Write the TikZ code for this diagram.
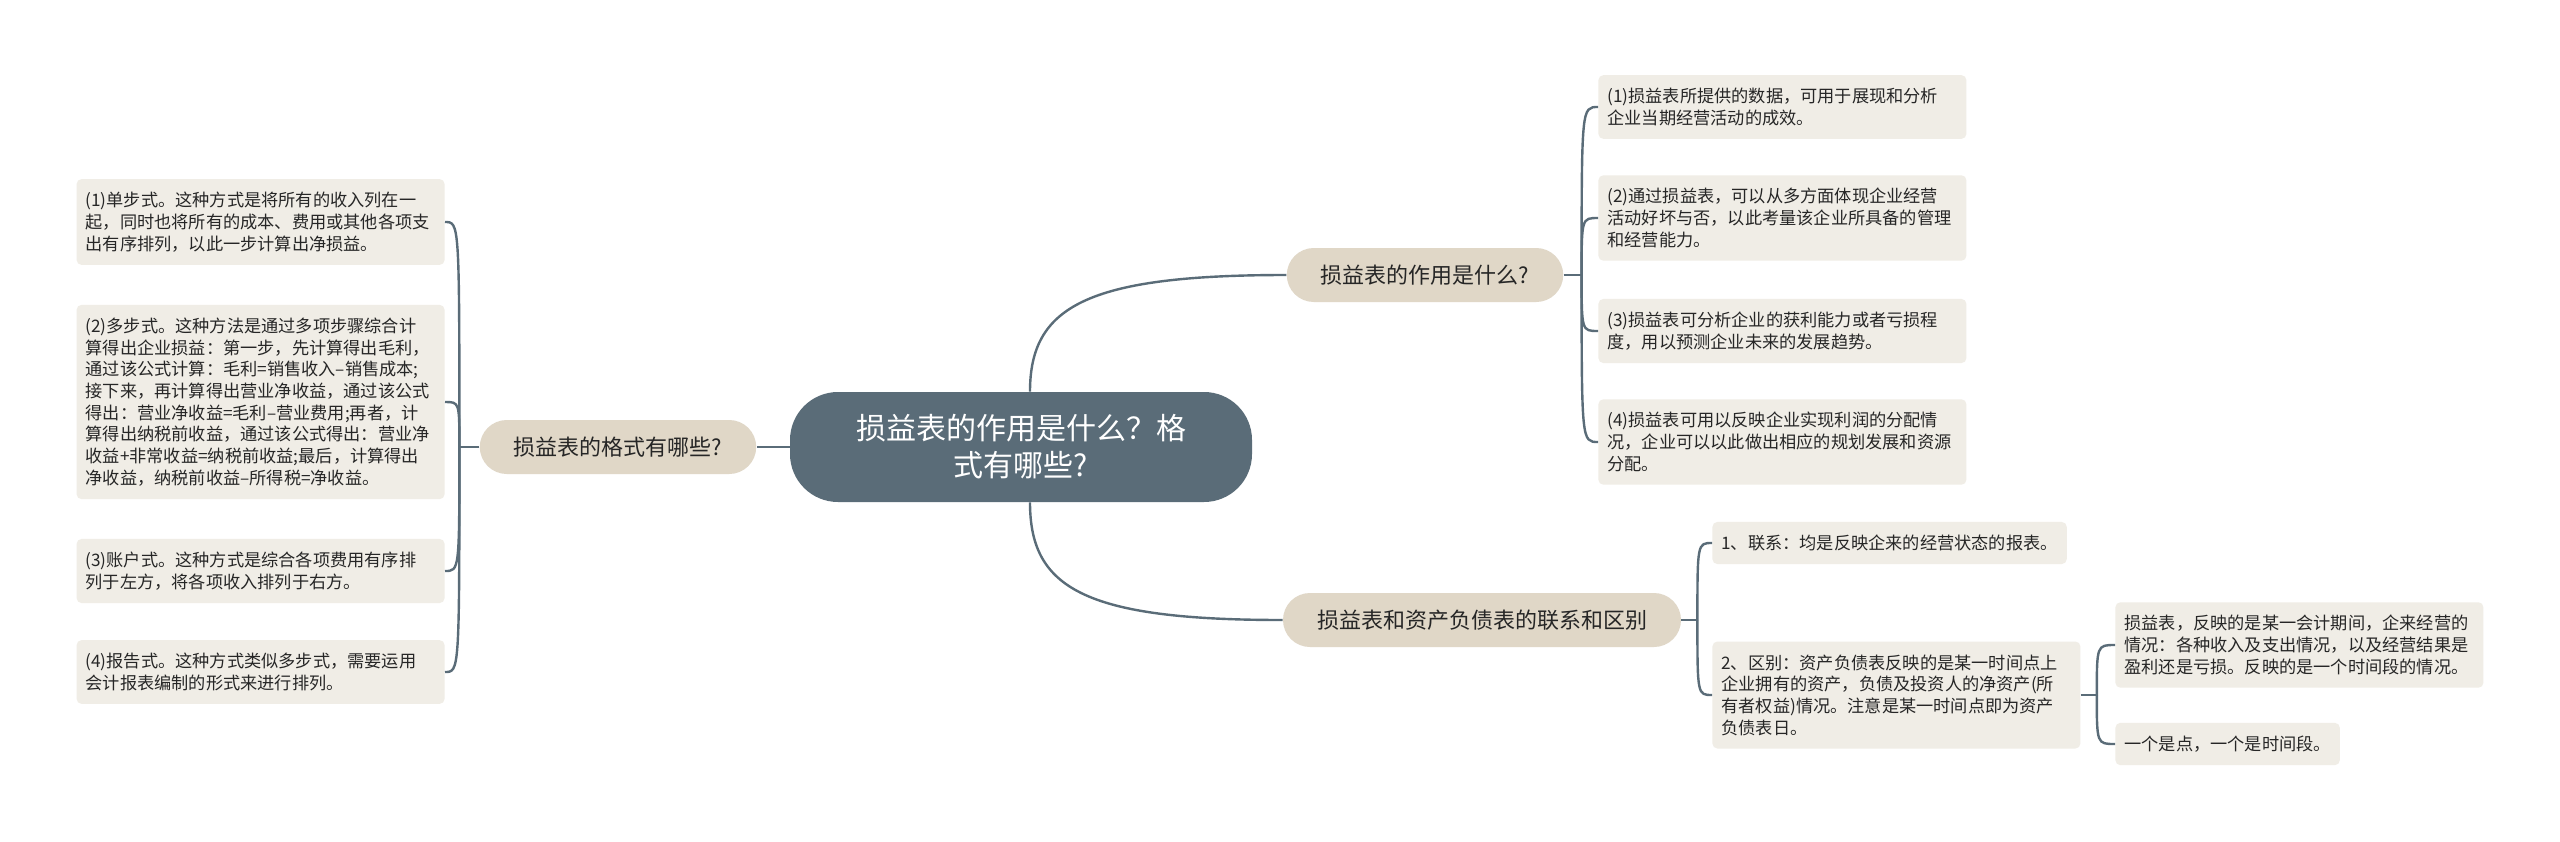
\documentclass[tikz,border=0pt]{standalone}
\usepackage{fontspec}
\setmainfont{Noto Sans CJK SC}
\usetikzlibrary{calc}
\definecolor{slate}{HTML}{5A6C78}
\definecolor{topicfill}{HTML}{E0D7C7}
\definecolor{leaffill}{HTML}{F0EDE6}
\definecolor{ink}{HTML}{262626}
\tikzset{root/.style={fill=slate,text=white,rounded corners=24pt,align=center,inner xsep=33pt,minimum height=55pt,font=\fontsize{15}{18.5}\selectfont}}
\tikzset{topic/.style={fill=topicfill,text=ink,rounded corners=13.5pt,inner xsep=17pt,minimum height=27pt,font=\fontsize{11}{13}\selectfont}}
\tikzset{leaf/.style={fill=leaffill,text=ink,rounded corners=2.5pt,align=left,inner xsep=4.5pt,inner ysep=6.5pt,font=\fontsize{8.6}{10.85}\selectfont}}
\tikzset{wideleaf/.style={leaf,text width=175pt}}
\tikzset{branch/.style={draw=slate,line width=1.2pt}}

\begin{document}
\begin{tikzpicture}[x=0.5pt,y=-0.5pt]
\useasboundingbox[fill=white](0,0)rectangle(2560,841);
\node[root](root)at(1021,447){损益表的作用是什么？格\\式有哪些?};
\node[topic](fmt)at(618,447){损益表的格式有哪些?};
\node[topic](use)at(1425,275){损益表的作用是什么?};
\node[topic](rel)at(1482,620){损益表和资产负债表的联系和区别};
% left leaves
\node[wideleaf,anchor=east](f1)at(445,222){(1)单步式。这种方式是将所有的收入列在一\\起，同时也将所有的成本、费用或其他各项支\\出有序排列，以此一步计算出净损益。};
\node[wideleaf,anchor=east](f2)at(445,402){(2)多步式。这种方法是通过多项步骤综合计\\算得出企业损益：第一步，先计算得出毛利，\\通过该公式计算：毛利=销售收入–销售成本;\\接下来，再计算得出营业净收益，通过该公式\\得出：营业净收益=毛利–营业费用;再者，计\\算得出纳税前收益，通过该公式得出：营业净\\收益+非常收益=纳税前收益;最后，计算得出\\净收益，纳税前收益–所得税=净收益。};
\node[wideleaf,anchor=east](f3)at(445,571){(3)账户式。这种方式是综合各项费用有序排\\列于左方，将各项收入排列于右方。};
\node[wideleaf,anchor=east](f4)at(445,672){(4)报告式。这种方式类似多步式，需要运用\\会计报表编制的形式来进行排列。};
% right leaves
\node[wideleaf,anchor=west](u1)at(1598,107){(1)损益表所提供的数据，可用于展现和分析\\企业当期经营活动的成效。};
\node[wideleaf,anchor=west](u2)at(1598,218){(2)通过损益表，可以从多方面体现企业经营\\活动好坏与否，以此考量该企业所具备的管理\\和经营能力。};
\node[wideleaf,anchor=west](u3)at(1598,331){(3)损益表可分析企业的获利能力或者亏损程\\度，用以预测企业未来的发展趋势。};
\node[wideleaf,anchor=west](u4)at(1598,442){(4)损益表可用以反映企业实现利润的分配情\\况，企业可以以此做出相应的规划发展和资源\\分配。};
\node[leaf,anchor=west](r1)at(1712,543){1、联系：均是反映企来的经营状态的报表。};
\node[wideleaf,anchor=west](r2)at(1712,695){2、区别：资产负债表反映的是某一时间点上\\企业拥有的资产，负债及投资人的净资产(所\\有者权益)情况。注意是某一时间点即为资产\\负债表日。};
\node[wideleaf,anchor=west](d1)at(2115,645){损益表，反映的是某一会计期间，企来经营的\\情况：各种收入及支出情况，以及经营结果是\\盈利还是亏损。反映的是一个时间段的情况。};
\node[leaf,anchor=west](d2)at(2115,744){一个是点，一个是时间段。};
% connectors
\draw[branch](root.west)--(fmt.east);
\draw[branch]($(root.north)+(9,0)$)..controls +(0,-85) and +(-200,0)..(use.west);
\draw[branch]($(root.south)+(9,0)$)..controls +(0,85) and +(-200,0)..(rel.west);
\coordinate(jf)at($(fmt.west)+(-20,0)$);
\coordinate(ju)at($(use.east)+(18,0)$);
\coordinate(jr)at($(rel.east)+(16,0)$);
\coordinate(jd)at($(r2.east)+(16,0)$);
\draw[branch](fmt.west)--(jf);\draw[branch](use.east)--(ju);
\draw[branch](rel.east)--(jr);\draw[branch](r2.east)--(jd);
\foreach \n in {f1,f2,f3,f4}\draw[branch](jf)..controls(jf|-\n.east)..(\n.east);
\foreach \n in {u1,u2,u3,u4}\draw[branch](ju)..controls(ju|-\n.west)..(\n.west);
\foreach \n in {r1,r2}\draw[branch](jr)..controls(jr|-\n.west)..(\n.west);
\foreach \n in {d1,d2}\draw[branch](jd)..controls(jd|-\n.west)..(\n.west);
\end{tikzpicture}
\end{document}
